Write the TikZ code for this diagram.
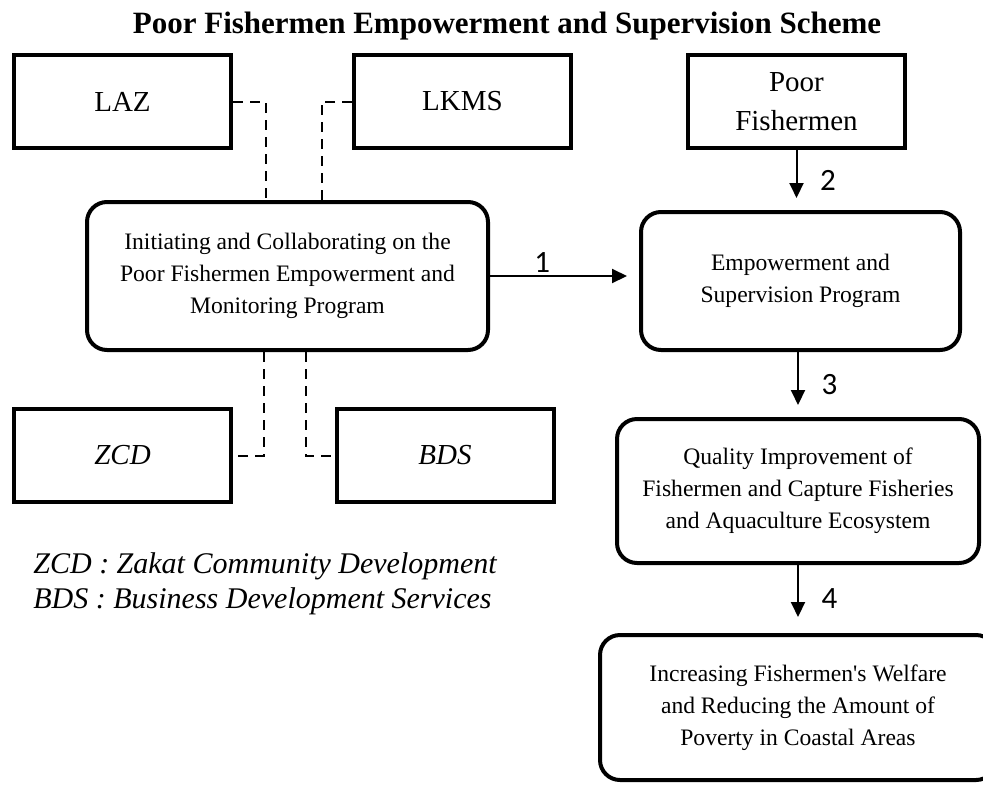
\documentclass[tikz,border=0pt]{standalone}
\usepackage{fontspec}
\setmainfont{Liberation Serif}
\newfontfamily\numfont{Carlito}
\usetikzlibrary{arrows.meta}

\begin{document}
\begin{tikzpicture}[x=0.5pt,y=0.5pt,
        plainbox/.style={draw,rectangle,line width=2pt,minimum width=108.5pt,minimum height=46.5pt,align=center,font=\fontsize{14.5}{19.5}\selectfont},
        progbox/.style={draw,rectangle,rounded corners=10pt,line width=2pt,align=center,font=\fontsize{11.8}{16}\selectfont},
        dashlink/.style={line width=1pt,dash pattern=on 5pt off 3.5pt},
        flow/.style={line width=1pt,-{Triangle[length=7.5pt,width=7pt]},shorten >=6pt},
        numlabel/.style={font=\numfont\fontsize{15.5}{17}\selectfont}]

        \useasboundingbox (0,0) rectangle (983,784);

        \node[font=\bfseries\fontsize{15.5}{18}\selectfont] (title) at (507,758) {Poor Fishermen Empowerment and Supervision Scheme};

        % partner boxes
        \node[plainbox] (laz) at (122.5,682.5) {LAZ};
        \node[plainbox] (lkms) at (462.5,682.5) {LKMS};
        \node[plainbox] (poor) at (796.5,682.5) {Poor\\Fishermen};
        \node[plainbox,font=\itshape\fontsize{14.5}{19.5}\selectfont] (zcd) at (122.5,328.5) {ZCD};
        \node[plainbox,font=\itshape\fontsize{14.5}{19.5}\selectfont] (bds) at (445,328.5) {BDS};

        % program boxes
        \node[progbox,minimum width=200.5pt,minimum height=74pt] (init) at (287.5,508) {Initiating and Collaborating on the\\Poor Fishermen Empowerment and\\Monitoring Program};
        \node[progbox,minimum width=159.5pt,minimum height=69pt] (emp) at (800.5,503) {Empowerment and\\Supervision Program};
        \node[progbox,minimum width=181pt,minimum height=72pt] (qual) at (798,293) {Quality Improvement of\\Fishermen and Capture Fisheries\\and Aquaculture Ecosystem};
        \node[progbox,minimum width=198pt,minimum height=72.5pt] (welf) at (798,76.5) {Increasing Fishermen\textquotesingle s Welfare\\and Reducing the Amount of\\Poverty in Coastal Areas};

        \node[anchor=north west,inner sep=0pt,align=left,font=\itshape\fontsize{15}{17.5}\selectfont] (legend) at (33,232) {ZCD : Zakat Community Development\\BDS : Business Development Services};

        % dashed links
        \draw[dashlink] (laz.east) -| ([xshift=-11pt]init.north);
        \draw[dashlink] (lkms.west) -| ([xshift=17pt]init.north);
        \draw[dashlink] ([xshift=-12pt]init.south) |- (zcd.east);
        \draw[dashlink] ([xshift=9pt]init.south) |- (bds.west);

        % flow
        \draw[flow] (init.east) -- (init.east -| emp.west) node[pos=0.35,above=-2pt,numlabel] {1};
        \draw[flow] (poor.south) -- (poor.south |- emp.north) node[midway,right=8pt,numlabel] {2};
        \draw[flow] (qual.north |- emp.south) -- (qual.north) node[midway,right=8pt,numlabel] {3};
        \draw[flow,shorten >=8pt] (qual.south) -- (welf.north) node[midway,right=8pt,numlabel] {4};
    \end{tikzpicture}
\end{document}
